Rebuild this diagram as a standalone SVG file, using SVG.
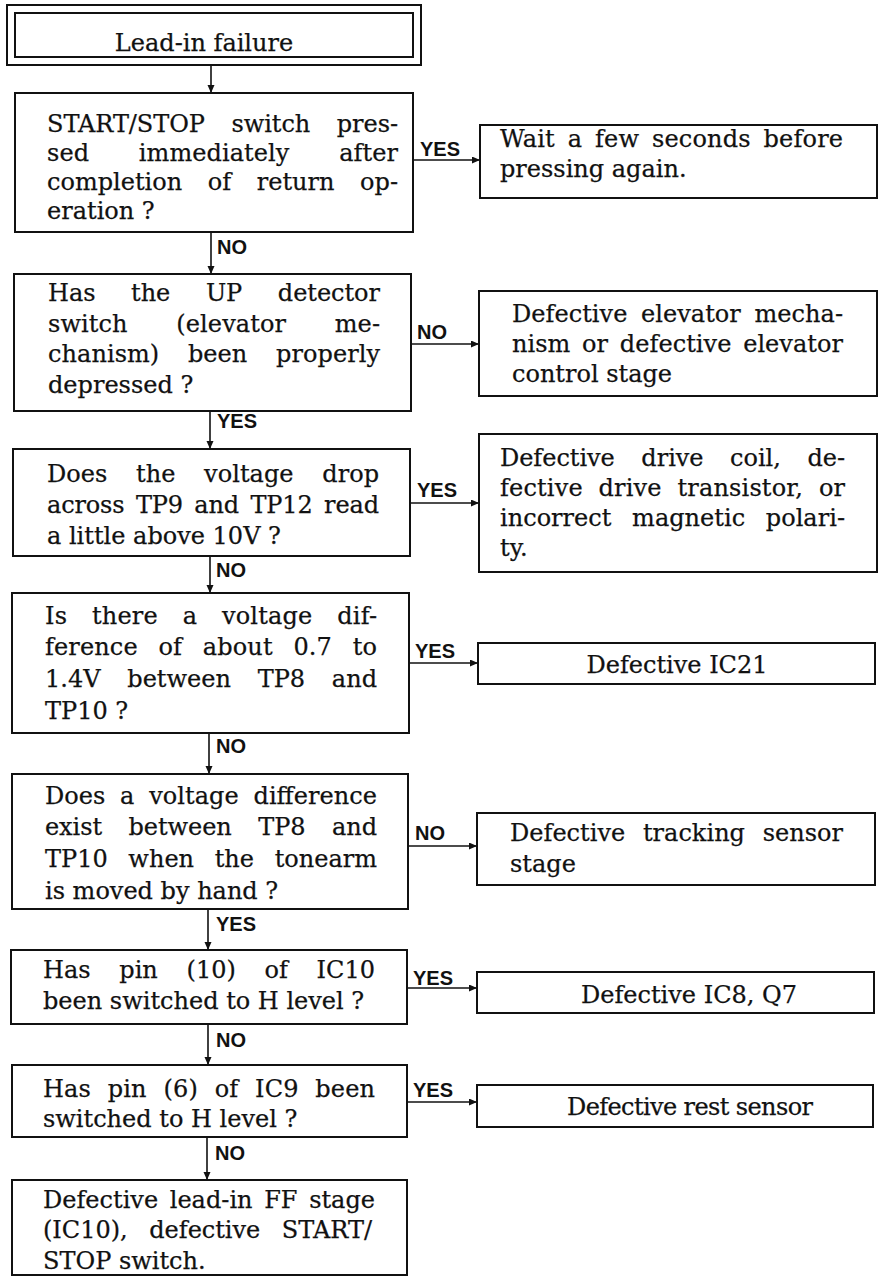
<svg xmlns="http://www.w3.org/2000/svg" width="881" height="1286" viewBox="0 0 881 1286">
<style>
.box{fill:#fff;stroke:#111;stroke-width:2}
.t{font-family:"DejaVu Serif","Liberation Serif",serif;font-size:24px;fill:#111;stroke:#111;stroke-width:0.25}
.c{text-anchor:middle}
.lbl{font-family:"Liberation Sans",Arial,sans-serif;font-weight:bold;font-size:20px;fill:#111}
.ln{stroke:#111;stroke-width:1.6;fill:none;marker-end:url(#ah)}
</style>
<defs>
<marker id="ah" markerUnits="userSpaceOnUse" markerWidth="9" markerHeight="8" refX="8" refY="3.5" orient="auto">
<path d="M0,0 L8,3.5 L0,7 z" fill="#111"/>
</marker>
</defs>
<rect width="881" height="1286" fill="#fff"/>

<g id="connectors">
<line class="ln" x1="211" y1="65" x2="211" y2="93"/>
<line class="ln" x1="211" y1="232" x2="211" y2="274"/>
<line class="ln" x1="210" y1="411" x2="210" y2="449"/>
<line class="ln" x1="210" y1="556" x2="210" y2="593"/>
<line class="ln" x1="209" y1="733" x2="209" y2="774"/>
<line class="ln" x1="208" y1="909" x2="208" y2="950"/>
<line class="ln" x1="208" y1="1024" x2="208" y2="1065"/>
<line class="ln" x1="207" y1="1137" x2="207" y2="1180"/>
<line class="ln" x1="413" y1="160" x2="480" y2="160"/>
<line class="ln" x1="411" y1="344" x2="479" y2="344"/>
<line class="ln" x1="410" y1="503" x2="479" y2="503"/>
<line class="ln" x1="409" y1="663" x2="478" y2="663"/>
<line class="ln" x1="408" y1="846" x2="477" y2="846"/>
<line class="ln" x1="407" y1="988" x2="477" y2="988"/>
<line class="ln" x1="407" y1="1102" x2="477" y2="1102"/>
<text class="lbl" x="217" y="254">NO</text>
<text class="lbl" x="217" y="428">YES</text>
<text class="lbl" x="216" y="577">NO</text>
<text class="lbl" x="216" y="753">NO</text>
<text class="lbl" x="216" y="931">YES</text>
<text class="lbl" x="216" y="1047">NO</text>
<text class="lbl" x="215" y="1160">NO</text>
<text class="lbl" x="420" y="156">YES</text>
<text class="lbl" x="417" y="339">NO</text>
<text class="lbl" x="417" y="497">YES</text>
<text class="lbl" x="415" y="658">YES</text>
<text class="lbl" x="415" y="840">NO</text>
<text class="lbl" x="413" y="985">YES</text>
<text class="lbl" x="413" y="1097">YES</text>
</g>

<g id="n-start">
<rect class="box" x="7" y="5" width="414" height="60"/>
<rect class="box" x="15" y="13" width="398" height="44"/>
<text class="t c" x="204" y="51">Lead-in failure</text>
</g>

<g id="n-q1">
<rect class="box" x="15" y="93" width="398" height="139"/>
<text class="t" x="47" y="131.5" textLength="351" lengthAdjust="spacing" style="word-spacing:19px">START/STOP switch pres-</text>
<text class="t" x="47" y="160.5" textLength="351" lengthAdjust="spacing" style="word-spacing:42px">sed immediately after</text>
<text class="t" x="47" y="189.5" textLength="351" lengthAdjust="spacing" style="word-spacing:18px">completion of return op-</text>
<text class="t" x="47" y="219">eration ?</text>
</g>

<g id="n-a1">
<rect class="box" x="480" y="125" width="397" height="73"/>
<text class="t" x="500" y="147" textLength="343" lengthAdjust="spacing" style="word-spacing:5px">Wait a few seconds before</text>
<text class="t" x="500" y="177">pressing again.</text>
</g>

<g id="n-q2">
<rect class="box" x="14" y="274" width="397" height="137"/>
<text class="t" x="48" y="301" textLength="332" lengthAdjust="spacing" style="word-spacing:28px">Has the UP detector</text>
<text class="t" x="48" y="331.5" textLength="332" lengthAdjust="spacing" style="word-spacing:41px">switch (elevator me-</text>
<text class="t" x="48" y="362" textLength="332" lengthAdjust="spacing" style="word-spacing:21px">chanism) been properly</text>
<text class="t" x="48" y="393">depressed ?</text>
</g>

<g id="n-a2">
<rect class="box" x="479" y="291" width="398" height="105"/>
<text class="t" x="512" y="322" textLength="331" lengthAdjust="spacing" style="word-spacing:6px">Defective elevator mecha-</text>
<text class="t" x="512" y="352" textLength="331" lengthAdjust="spacing" style="word-spacing:4px">nism or defective elevator</text>
<text class="t" x="512" y="382">control stage</text>
</g>

<g id="n-q3">
<rect class="box" x="13" y="449" width="397" height="107"/>
<text class="t" x="47" y="482" textLength="332" lengthAdjust="spacing" style="word-spacing:21px">Does the voltage drop</text>
<text class="t" x="47" y="512.5" textLength="332" lengthAdjust="spacing" style="word-spacing:4px">across TP9 and TP12 read</text>
<text class="t" x="47" y="543.5">a little above 10V ?</text>
</g>

<g id="n-a3">
<rect class="box" x="479" y="434" width="398" height="138"/>
<text class="t" x="500" y="466" textLength="345" lengthAdjust="spacing" style="word-spacing:19px">Defective drive coil, de-</text>
<text class="t" x="500" y="496" textLength="345" lengthAdjust="spacing" style="word-spacing:8px">fective drive transistor, or</text>
<text class="t" x="500" y="526" textLength="345" lengthAdjust="spacing" style="word-spacing:13px">incorrect magnetic polari-</text>
<text class="t" x="500" y="556">ty.</text>
</g>

<g id="n-q4">
<rect class="box" x="12" y="593" width="397" height="140"/>
<text class="t" x="45" y="623.5" textLength="332" lengthAdjust="spacing" style="word-spacing:17px">Is there a voltage dif-</text>
<text class="t" x="45" y="655" textLength="332" lengthAdjust="spacing" style="word-spacing:13px">ference of about 0.7 to</text>
<text class="t" x="45" y="687" textLength="332" lengthAdjust="spacing" style="word-spacing:19px">1.4V between TP8 and</text>
<text class="t" x="45" y="718.5">TP10 ?</text>
</g>

<g id="n-a4">
<rect class="box" x="478" y="643" width="397" height="41"/>
<text class="t c" x="677" y="673">Defective IC21</text>
</g>

<g id="n-q5">
<rect class="box" x="12" y="774" width="396" height="135"/>
<text class="t" x="45" y="803.5" textLength="332" lengthAdjust="spacing" style="word-spacing:7px">Does a voltage difference</text>
<text class="t" x="45" y="835" textLength="332" lengthAdjust="spacing" style="word-spacing:19px">exist between TP8 and</text>
<text class="t" x="45" y="867" textLength="332" lengthAdjust="spacing" style="word-spacing:13px">TP10 when the tonearm</text>
<text class="t" x="45" y="898.5">is moved by hand ?</text>
</g>

<g id="n-a5">
<rect class="box" x="477" y="813" width="398" height="72"/>
<text class="t" x="510" y="840.5" textLength="333" lengthAdjust="spacing" style="word-spacing:10px">Defective tracking sensor</text>
<text class="t" x="510" y="872">stage</text>
</g>

<g id="n-q6">
<rect class="box" x="11" y="950" width="396" height="74"/>
<text class="t" x="43" y="978" textLength="332" lengthAdjust="spacing" style="word-spacing:21px">Has pin (10) of IC10</text>
<text class="t" x="43" y="1009">been switched to H level ?</text>
</g>

<g id="n-a6">
<rect class="box" x="477" y="972" width="397" height="41"/>
<text class="t c" x="689" y="1003">Defective IC8, Q7</text>
</g>

<g id="n-q7">
<rect class="box" x="12" y="1065" width="395" height="72"/>
<text class="t" x="43" y="1097" textLength="332" lengthAdjust="spacing" style="word-spacing:9px">Has pin (6) of IC9 been</text>
<text class="t" x="43" y="1127">switched to H level ?</text>
</g>

<g id="n-a7">
<rect class="box" x="477" y="1085" width="396" height="42"/>
<text class="t" x="567" y="1115" textLength="246" lengthAdjust="spacing">Defective rest sensor</text>
</g>

<g id="n-end">
<rect class="box" x="12" y="1180" width="395" height="95"/>
<text class="t" x="43" y="1208" textLength="332" lengthAdjust="spacing" style="word-spacing:4px">Defective lead-in FF stage</text>
<text class="t" x="43" y="1238" textLength="329" lengthAdjust="spacing" style="word-spacing:14px">(IC10), defective START/</text>
<text class="t" x="43" y="1268.5">STOP switch.</text>
</g>
</svg>
